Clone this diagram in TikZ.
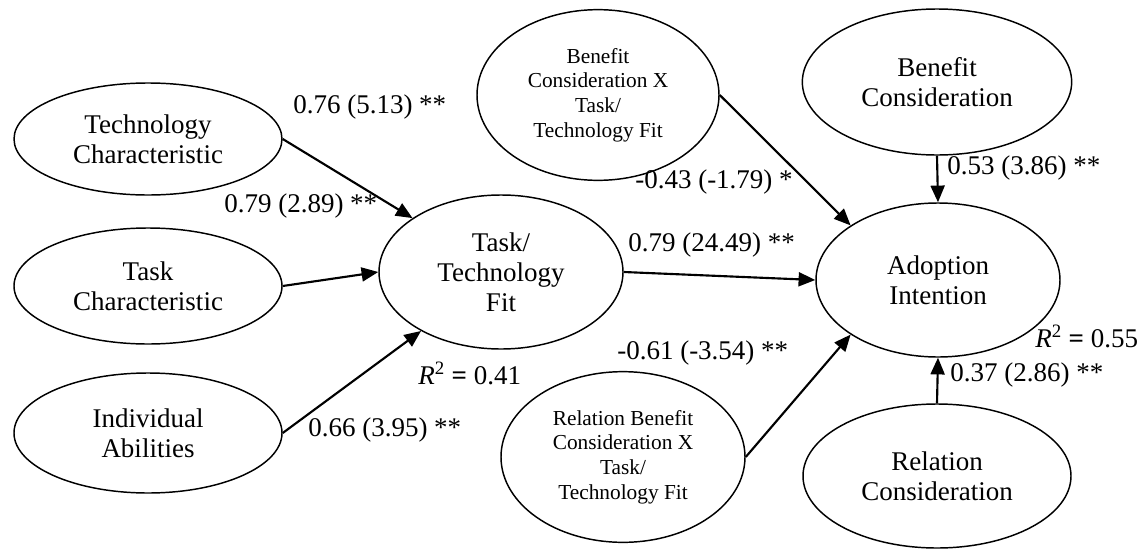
\documentclass[tikz,border=0pt]{standalone}
\usepackage{fontspec}
\setmainfont{Liberation Serif}
\usetikzlibrary{arrows.meta,shapes.geometric}
\begin{document}
\begin{tikzpicture}[x=0.75pt,y=-0.75pt,
  construct/.style={draw,line width=1.1pt,ellipse,inner sep=0pt,align=center,
    font=\fontsize{20.25}{22.5}\selectfont},
  smallconstruct/.style={construct,font=\fontsize{16}{18.5}\selectfont},
  path/.style={draw,line width=1.6pt,-{Triangle[length=12.5pt,width=10.5pt]}},
  coef/.style={inner sep=0pt,font=\fontsize{20.25}{22.5}\selectfont}]
\useasboundingbox (0,0) rectangle (1140,550);
\node[construct,minimum width=201pt,minimum height=84pt] (tc) at (148,139) {Technology\\Characteristic};
\node[construct,minimum width=201pt,minimum height=87pt] (tk) at (148,286) {Task\\Characteristic};
\node[construct,minimum width=201pt,minimum height=90pt] (ind) at (148,433) {Individual\\Abilities};
\node[construct,minimum width=183pt,minimum height=115.5pt] (ttf) at (501,272) {Task/\\Technology\\Fit};
\node[smallconstruct,minimum width=181.5pt,minimum height=128pt] (bx) at (598,95) {Benefit\\Consideration X\\Task/\\Technology Fit};
\node[construct,minimum width=202pt,minimum height=109.5pt] (bc) at (937,82) {Benefit\\Consideration};
\node[construct,minimum width=183pt,minimum height=115.5pt] (ai) at (938,280) {Adoption\\Intention};
\node[smallconstruct,minimum width=183pt,minimum height=128pt] (rbx) at (623,457) {Relation Benefit\\Consideration X\\Task/\\Technology Fit};
\node[construct,minimum width=201pt,minimum height=108pt] (rc) at (937,476) {Relation\\Consideration};

\draw[path] (tc.east) -- (ttf);
\draw[path] (tk.east) -- (ttf.west);
\draw[path] (ind.east) -- (ttf);
\draw[path] (ttf.east) -- (ai.west);
\draw[path] (bx.east) -- (ai.148);
\draw[path] (rbx.east) -- (ai.212);
\draw[path] (bc.south) -- (ai.north);
\draw[path] (rc.north) -- (ai.south);

\node[coef,anchor=west] (l1) at (293,107) {0.76 (5.13) **};
\node[coef,anchor=west] (l2) at (224,206) {0.79 (2.89) **};
\node[coef,anchor=west] (l3) at (308,430) {0.66 (3.95) **};
\node[coef,anchor=west] (l4) at (418,373) {{\itshape R}\textsuperscript{2} \textbf{=} 0.41};
\node[coef,anchor=west] (l5) at (628,245) {0.79 (24.49) **};
\node[coef,anchor=west] (l6) at (635,182) {-0.43 (-1.79) *};
\node[coef,anchor=west] (l7) at (947,168) {0.53 (3.86) **};
\node[coef,anchor=west] (l8) at (617,353) {-0.61 (-3.54) **};
\node[coef,anchor=west] (l9) at (1035,336) {{\itshape R}\textsuperscript{2} \textbf{=} 0.55};
\node[coef,anchor=west] (l10) at (950,375) {0.37 (2.86) **};
\end{tikzpicture}
\end{document}
